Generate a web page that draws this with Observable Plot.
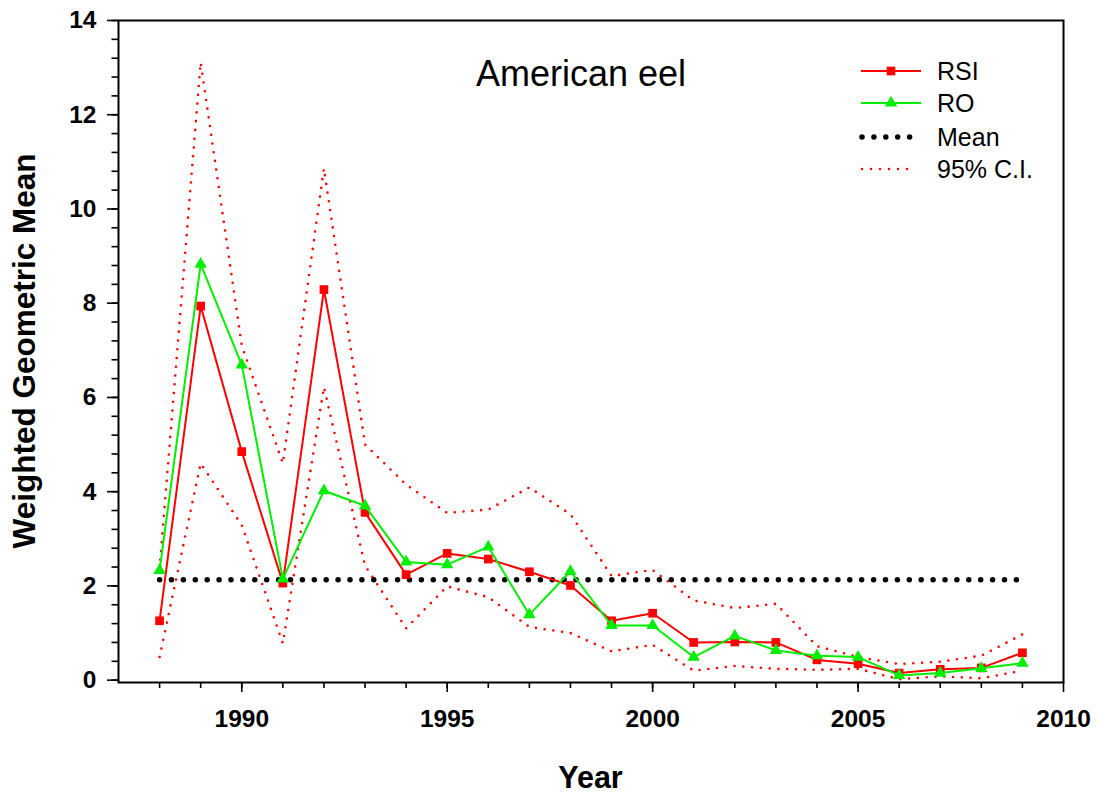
<!DOCTYPE html>
<html>
<head>
<meta charset="utf-8">
<script src="https://cdn.jsdelivr.net/npm/d3@7"></script>
<script src="https://cdn.jsdelivr.net/npm/@observablehq/plot@0.6"></script>
<style>
  body { margin: 0; background: #fff; }
  #wrap { position: relative; width: 1097px; height: 795px; font-family: "Liberation Sans", Arial, sans-serif; }
  #overlay { position: absolute; left: 0; top: 0; pointer-events: none; }
</style>
</head>
<body>
<div id="wrap"></div>
<script>
// ---- Data ----
const years = [1988, 1989, 1990, 1991, 1992, 1993, 1994, 1995, 1996, 1997, 1998,
               1999, 2000, 2001, 2002, 2003, 2004, 2005, 2006, 2007, 2008, 2009];
const rsi = [1.26, 7.94, 4.85, 2.06, 8.29, 3.56, 2.24, 2.69, 2.57, 2.30, 2.01,
             1.26, 1.42, 0.80, 0.81, 0.80, 0.43, 0.35, 0.15, 0.23, 0.26, 0.58];
const ro = [2.33, 8.83, 6.69, 2.15, 4.02, 3.70, 2.51, 2.45, 2.83, 1.39, 2.31,
            1.16, 1.16, 0.49, 0.94, 0.63, 0.52, 0.49, 0.10, 0.15, 0.25, 0.36];
const ciUpper = [2.37, 13.11, 7.10, 4.60, 10.86, 5.00, 4.15, 3.55, 3.62, 4.09, 3.52,
                 2.21, 2.34, 1.69, 1.53, 1.62, 0.72, 0.49, 0.34, 0.39, 0.52, 0.97];
const ciLower = [0.49, 4.60, 3.29, 0.78, 6.22, 2.43, 1.10, 1.99, 1.76, 1.13, 1.00,
                 0.61, 0.75, 0.20, 0.30, 0.24, 0.22, 0.24, 0.02, 0.08, 0.04, 0.20];
const meanValue = 2.13;

const xMajorTicks = [1990, 1995, 2000, 2005, 2010];
const xMinorTicks = d3.range(1988, 2010);
const yMajorTicks = [0, 2, 4, 6, 8, 10, 12, 14];
const yMinorTicks = d3.range(0, 14.001, 0.4);

const titleText = "American eel";
const xLabel = "Year";
const yLabel = "Weighted Geometric Mean";
const legendLabels = ["RSI", "RO", "Mean", "95% C.I."];

const RED = "#ff0000";
const GREEN = "#00ee00";
const FONT = '"Liberation Sans", Arial, sans-serif';

// ---- Tables ----
const rows = years.map((year, i) => ({year, rsi: rsi[i], ro: ro[i], hi: ciUpper[i], lo: ciLower[i]}));
const meanRows = [{year: years[0], v: meanValue}, {year: years[years.length - 1], v: meanValue}];

const chart = Plot.plot({
  width: 1097,
  height: 795,
  marginLeft: 118,
  marginRight: 34,
  marginTop: 20,
  marginBottom: 113,
  style: {fontFamily: FONT, background: "white", color: "black", overflow: "visible"},
  x: {domain: [1987, 2010]},
  y: {domain: [-0.05, 14]},
  marks: [
    Plot.axisX({ticks: xMinorTicks, tickSize: 6, text: null, label: null, strokeWidth: 1.6}),
    Plot.axisX({ticks: xMajorTicks, tickSize: 10, tickPadding: 17, tickFormat: d => String(d),
                fontSize: 24.5, fontWeight: "bold", label: null, strokeWidth: 1.6}),
    Plot.axisY({ticks: yMinorTicks, tickSize: 6.5, text: null, label: null, strokeWidth: 1.6}),
    Plot.axisY({ticks: yMajorTicks, tickSize: 11, tickPadding: 11, tickFormat: d => String(d),
                fontSize: 24.5, fontWeight: "bold", label: null, strokeWidth: 1.6}),
    // confidence interval
    Plot.line(rows, {x: "year", y: "hi", stroke: RED, strokeWidth: 2.6, strokeDasharray: "0,8.8", strokeLinecap: "round"}),
    Plot.line(rows, {x: "year", y: "lo", stroke: RED, strokeWidth: 2.6, strokeDasharray: "0,8.8", strokeLinecap: "round"}),
    // mean
    Plot.line(meanRows, {x: "year", y: "v", stroke: "black", strokeWidth: 5.5, strokeDasharray: "0,11.9", strokeLinecap: "round"}),
    // RSI
    Plot.line(rows, {x: "year", y: "rsi", stroke: RED, strokeWidth: 2}),
    Plot.dot(rows, {x: "year", y: "rsi", symbol: "square", r: 4.9, fill: RED, stroke: "none"}),
    // RO
    Plot.line(rows, {x: "year", y: "ro", stroke: GREEN, strokeWidth: 2}),
    Plot.dot(rows, {x: "year", y: "ro", symbol: "triangle", r: 4.6, fill: GREEN, stroke: "none"}),
    Plot.frame({stroke: "black", strokeWidth: 2})
  ]
});

const wrap = document.getElementById("wrap");
wrap.appendChild(chart);

// ---- Overlay: title, axis labels, legend ----
const svg = d3.select(wrap).append("svg")
  .attr("id", "overlay")
  .attr("width", 1097).attr("height", 795)
  .style("font-family", FONT);

svg.append("text").text(titleText)
  .attr("x", 476).attr("y", 86).attr("font-size", 36).attr("fill", "black");

svg.append("text").text(xLabel)
  .attr("x", 590.5).attr("y", 788).attr("text-anchor", "middle")
  .attr("font-size", 30.5).attr("font-weight", "bold");

svg.append("text").text(yLabel)
  .attr("transform", "translate(35,351) rotate(-90)")
  .attr("text-anchor", "middle")
  .attr("font-size", 31.5).attr("font-weight", "bold");

const lg = svg.append("g");
const lx0 = 861, lx1 = 921, tx = 937;
const rowY = [71, 103, 137, 169];
// RSI
lg.append("line").attr("x1", lx0).attr("x2", lx1).attr("y1", rowY[0]).attr("y2", rowY[0])
  .attr("stroke", RED).attr("stroke-width", 2);
lg.append("path").attr("d", d3.symbol(d3.symbolSquare, 4.9 * 4.9 * Math.PI)())
  .attr("transform", `translate(${(lx0 + lx1) / 2},${rowY[0]})`).attr("fill", RED);
// RO
lg.append("line").attr("x1", lx0).attr("x2", lx1).attr("y1", rowY[1]).attr("y2", rowY[1])
  .attr("stroke", GREEN).attr("stroke-width", 2);
lg.append("path").attr("d", d3.symbol(d3.symbolTriangle, 4.6 * 4.6 * Math.PI)())
  .attr("transform", `translate(${(lx0 + lx1) / 2},${rowY[1]})`).attr("fill", GREEN);
// Mean
lg.append("line").attr("x1", 862).attr("x2", 910).attr("y1", rowY[2]).attr("y2", rowY[2])
  .attr("stroke", "black").attr("stroke-width", 5.5).attr("stroke-dasharray", "0,11.9").attr("stroke-linecap", "round");
// CI
lg.append("line").attr("x1", 862).attr("x2", 916).attr("y1", rowY[3]).attr("y2", rowY[3])
  .attr("stroke", RED).attr("stroke-width", 2.6).attr("stroke-dasharray", "0,9").attr("stroke-linecap", "round");

legendLabels.forEach((t, i) => {
  lg.append("text").text(t).attr("x", tx).attr("y", rowY[i] + 9)
    .attr("font-size", 25).attr("fill", "black");
});
</script>
</body>
</html>
